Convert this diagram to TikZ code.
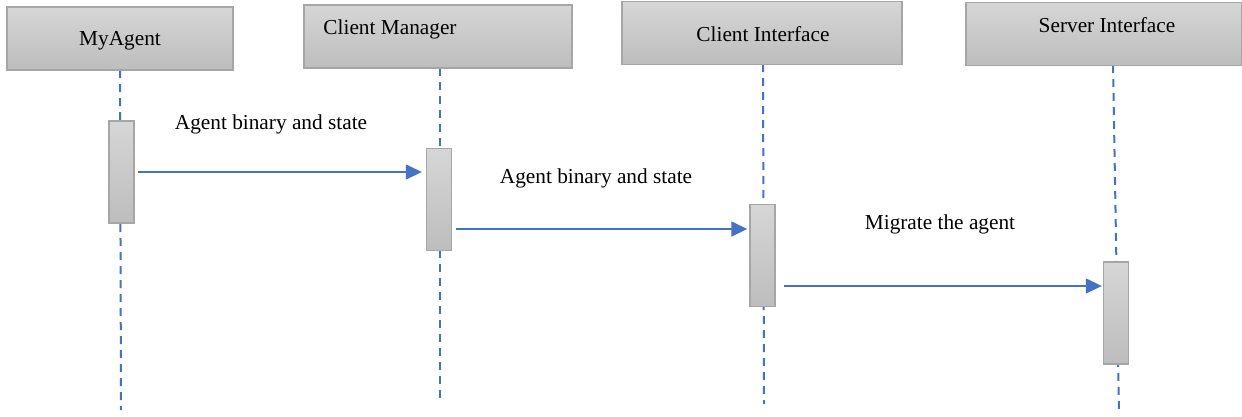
\documentclass[tikz,border=0pt]{standalone}
\usepackage{fontspec}
\setmainfont{Liberation Serif}
\usetikzlibrary{arrows.meta}
\definecolor{lineblue}{HTML}{4472C4}
\definecolor{boxedge}{HTML}{A6A6A6}
\definecolor{shadetop}{HTML}{D6D6D6}
\definecolor{shadebot}{HTML}{BDBDBD}
\tikzset{
  headbox/.style={draw=boxedge, line width=1.6pt, top color=shadetop, bottom color=shadebot,
    minimum width=#1, minimum height=63pt, inner sep=0pt},
  actbox/.style={draw=boxedge, line width=1.4pt, top color=shadetop, bottom color=shadebot,
    minimum width=25pt, minimum height=102pt, inner sep=0pt},
  lbl/.style={font=\fontsize{21.3}{25}\selectfont, inner sep=0pt, text=black},
  lifeline/.style={draw=lineblue, line width=2pt, dash pattern=on 8pt off 6pt},
  msg/.style={draw=lineblue, line width=1.5pt, -{Triangle[length=16pt,width=15pt]}, lineblue}
}
\begin{document}
\begin{tikzpicture}[x=1pt, y=-1pt]
  \useasboundingbox (0,0) rectangle (1242,416);
  \fill[white] (0,0) rectangle (1242,416);

  % lifelines, drawn first so that the boxes cover them
  \coordinate (l1t) at (120,70);  \coordinate (l1b) at (121,410);
  \coordinate (l2t) at (440,68);  \coordinate (l2b) at (440,400);
  \coordinate (l3t) at (763,64);  \coordinate (l3b) at (764,404);
  \coordinate (l4t) at (1113,65); \coordinate (l4b) at (1119,413);
  \draw[lifeline] (l1t) -- (l1b);
  \draw[lifeline] (l2t) -- (l2b);
  \draw[lifeline] (l3t) -- (l3b);
  \draw[lifeline] (l4t) -- (l4b);

  % participant heads
  \node[headbox=226pt] (h1) at (120,38.5) {};
  \node[headbox=268pt] (h2) at (438,36.5) {};
  \node[headbox=280pt] (h3) at (762,33) {};
  \node[headbox=276pt] (h4) at (1104,34) {};
  \node[lbl] (t1) at (120,41) {MyAgent};
  \node[lbl] (t2) at (390,29) {Client Manager};
  \node[lbl] (t3) at (763,34) {Client Interface};
  \node[lbl] (t4) at (1107,25) {Server Interface};

  % activation bars
  \node[actbox] (a1) at (121.5,172) {};
  \node[actbox] (a2) at (439,199.5) {};
  \node[actbox] (a3) at (762.5,255.5) {};
  \node[actbox] (a4) at (1116,313) {};

  % messages
  \draw[msg] ([xshift=3pt]a1.east |- 0,172) -- ([xshift=-4pt]a2.west |- 0,172);
  \draw[msg] ([xshift=4pt]a2.east |- 0,229) -- ([xshift=-2pt]a3.west |- 0,229);
  \draw[msg] ([xshift=8pt]a3.east |- 0,286) -- ([xshift=-1pt]a4.west |- 0,286);

  \node[lbl] (m1) at (271,124) {Agent binary and state};
  \node[lbl] (m2) at (596,178) {Agent binary and state};
  \node[lbl] (m3) at (940,224) {Migrate the agent};
\end{tikzpicture}
\end{document}
